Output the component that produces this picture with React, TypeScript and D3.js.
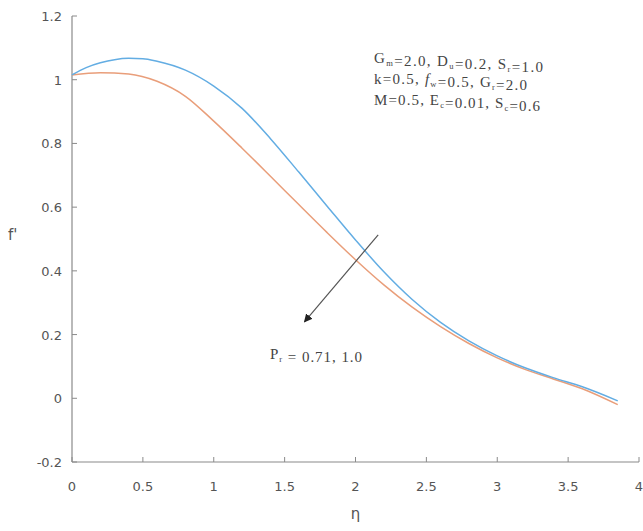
import React from "react";
import * as d3 from "d3";

const etaBlue = [0, 0.1, 0.2, 0.3, 0.4, 0.5, 0.6, 0.8, 1.0, 1.2, 1.4, 1.6, 1.8, 2.0, 2.2, 2.4, 2.6, 2.8, 3.0, 3.2, 3.4, 3.6, 3.85];
const fBlue = [1.015, 1.038, 1.053, 1.063, 1.067, 1.066, 1.058, 1.03, 0.98, 0.91, 0.815, 0.71, 0.603, 0.497, 0.397, 0.31, 0.238, 0.18, 0.133, 0.095, 0.064, 0.036, -0.008];
const etaOrange = [0, 0.2, 0.4, 0.6, 0.8, 1.0, 1.2, 1.4, 1.6, 1.8, 2.0, 2.2, 2.4, 2.6, 2.8, 3.0, 3.2, 3.4, 3.6, 3.85];
const fOrange = [1.015, 1.022, 1.018, 0.995, 0.948, 0.87, 0.785, 0.697, 0.608, 0.52, 0.435, 0.356, 0.286, 0.225, 0.172, 0.127, 0.09, 0.06, 0.03, -0.02];
const xTicks = [0, 0.5, 1, 1.5, 2, 2.5, 3, 3.5, 4];
const yTicks = [-0.2, 0, 0.2, 0.4, 0.6, 0.8, 1, 1.2];

const W = 643, H = 531;
const x = d3.scaleLinear().domain([0, 4]).range([72, 639]);
const y = d3.scaleLinear().domain([-0.2, 1.2]).range([462, 16]);

const line = d3.line<[number, number]>()
  .x(d => x(d[0]))
  .y(d => y(d[1]))
  .curve(d3.curveMonotoneX);

const blueD = line(etaBlue.map((e, i) => [e, fBlue[i]] as [number, number])) || "";
const orangeD = line(etaOrange.map((e, i) => [e, fOrange[i]] as [number, number])) || "";

const axisColor = "#8a8a8a";
const textColor = "#555";
const sansFont = "'DejaVu Sans', 'Liberation Sans', Arial, sans-serif";
const serifFont = "'Liberation Serif', 'DejaVu Serif', serif";

function Sub({ base, sub, italic }: { base: string; sub: string; italic?: boolean }) {
  return (
    <>
      <tspan fontStyle={italic ? "italic" : "normal"}>{base}</tspan>
      <tspan fontSize="8.5" dy="3">{sub}</tspan>
      <tspan dy="-3">{""}</tspan>
    </>
  );
}

export default function App() {
  const arrowStart = [2.16, 0.513];
  const arrowEnd = [1.64, 0.24];
  return (
    <div style={{ position: "absolute", left: 0, top: 0 }}>
      <svg width={W} height={H} viewBox={`0 0 ${W} ${H}`} style={{ display: "block", background: "#fff" }}>
        <defs>
          <marker id="ah" viewBox="0 0 10 10" refX="9" refY="5" markerWidth="7" markerHeight="7" orient="auto">
            <path d="M0,0 L10,5 L0,10 z" fill="#222" />
          </marker>
        </defs>
        {/* axes */}
        <line x1={x(0)} y1={y(-0.2)} x2={x(4)} y2={y(-0.2)} stroke={axisColor} strokeWidth={1.2} />
        <line x1={x(0)} y1={y(-0.2)} x2={x(0)} y2={y(1.2)} stroke={axisColor} strokeWidth={1.2} />
        {xTicks.map(t => (
          <g key={"x" + t}>
            <line x1={x(t)} x2={x(t)} y1={y(-0.2)} y2={y(-0.2) - 5} stroke={axisColor} strokeWidth={1} />
            <text x={x(t)} y={y(-0.2) + 29} textAnchor="middle" fontFamily={sansFont} fontSize={13} fill={textColor}>{t}</text>
          </g>
        ))}
        {yTicks.map(t => (
          <g key={"y" + t}>
            <line x1={x(0)} x2={x(0) + 5} y1={y(t)} y2={y(t)} stroke={axisColor} strokeWidth={1} />
            <text x={x(0) - 10} y={y(t) + 5} textAnchor="end" fontFamily={sansFont} fontSize={13} fill={textColor}>{Math.round(t * 10) / 10}</text>
          </g>
        ))}
        <text x={x(2)} y={519} textAnchor="middle" fontFamily={sansFont} fontSize={15} fill={textColor}>η</text>
        <text x={8} y={240} fontFamily={sansFont} fontSize={15} fill={textColor}>f'</text>
        {/* curves */}
        <path d={orangeD} fill="none" stroke="#e99e7a" strokeWidth={1.5} />
        <path d={blueD} fill="none" stroke="#63ade3" strokeWidth={1.5} />
        {/* arrow */}
        <line x1={x(arrowStart[0])} y1={y(arrowStart[1])} x2={x(arrowEnd[0])} y2={y(arrowEnd[1])} stroke="#555" strokeWidth={1.2} markerEnd="url(#ah)" />
        <text x={x(1.397)} y={y(0.122)} fontFamily={serifFont} fontSize={15} fill="#444" textLength={92} lengthAdjust="spacing">
          <Sub base="P" sub="r" />
          <tspan> = 0.71, 1.0</tspan>
        </text>
        {/* annotation */}
        <g fontFamily={serifFont} fontSize={15} fill="#444">
          <text x={374} y={63} textLength={169} lengthAdjust="spacing">
            <Sub base="G" sub="m" /><tspan>=2.0, </tspan>
            <Sub base="D" sub="u" /><tspan>=0.2, </tspan>
            <Sub base="S" sub="r" /><tspan>=1.0</tspan>
          </text>
          <text x={374} y={84} textLength={153} lengthAdjust="spacing">
            <tspan>k=0.5, </tspan>
            <Sub base="f" sub="w" italic /><tspan>=0.5, </tspan>
            <Sub base="G" sub="r" /><tspan>=2.0</tspan>
          </text>
          <text x={374} y={105} textLength={166} lengthAdjust="spacing">
            <tspan>M=0.5, </tspan>
            <Sub base="E" sub="c" /><tspan>=0.01, </tspan>
            <Sub base="S" sub="c" /><tspan>=0.6</tspan>
          </text>
        </g>
      </svg>
    </div>
  );
}
